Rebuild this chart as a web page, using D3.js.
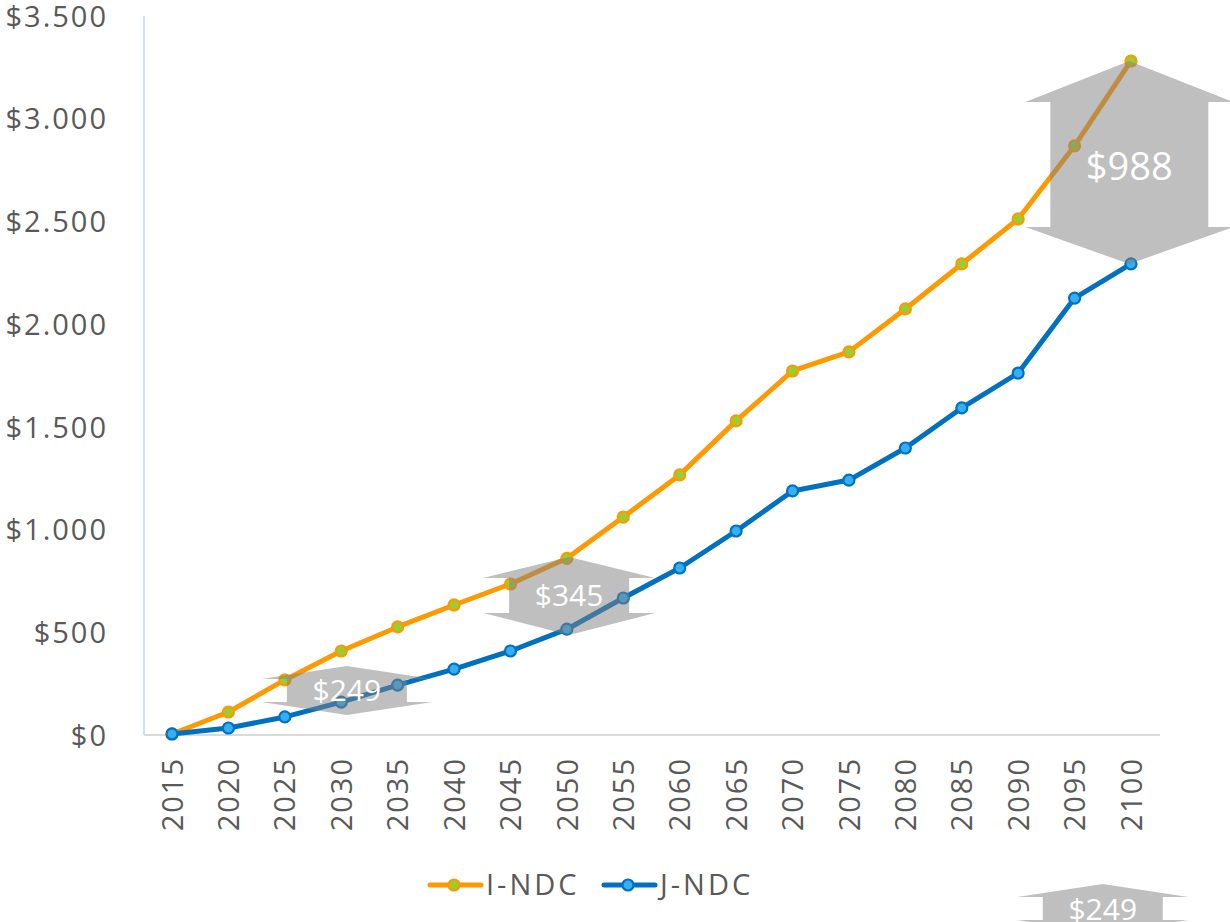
<!DOCTYPE html>
<html>
<head>
<meta charset="utf-8">
<script src="https://cdn.jsdelivr.net/npm/d3@7"></script>
<style>
html,body{margin:0;padding:0;background:#fff;}
svg{display:block;}
</style>
</head>
<body>
<svg id="chart" width="1230" height="922"></svg>
<script>
const years = [2015,2020,2025,2030,2035,2040,2045,2050,2055,2060,2065,2070,2075,2080,2085,2090,2095,2100];
const indc = [5,112,268,409,526,633,735,860,1061,1266,1529,1772,1865,2074,2293,2512,2868,3281];
const jndc = [5,34,88,160,243,321,409,515,667,813,993,1188,1241,1397,1592,1762,2127,2293];
const yTicks = [0,500,1000,1500,2000,2500,3000,3500];
const yTickLabels = ["$0","$500","$1.000","$1.500","$2.000","$2.500","$3.000","$3.500"];
const seriesNames = ["I-NDC","J-NDC"];
const annoLabels = ["$249","$345","$988","$249"];

const FONT = "'Open Sans', 'DejaVu Sans', sans-serif";
const svg = d3.select("#chart");
const x = d3.scalePoint().domain(years).range([172,1131]);
const y = d3.scaleLinear().domain([0,3500]).range([735,16]);

// axes lines
svg.append("line").attr("x1",144).attr("x2",144).attr("y1",y(3500)).attr("y2",y(0))
  .attr("stroke","#c9e1f5").attr("stroke-width",2);
svg.append("line").attr("x1",144).attr("x2",1160).attr("y1",y(0)).attr("y2",y(0))
  .attr("stroke","#d9d9d9").attr("stroke-width",2);

// y tick labels
const yAxis = d3.axisLeft(y).tickValues(yTicks).tickSize(0).tickPadding(0)
  .tickFormat((d,i)=>yTickLabels[i]);
const gy = svg.append("g").attr("transform","translate(108,0)").call(yAxis);
gy.select(".domain").remove();
gy.selectAll("text").attr("font-family",FONT).attr("font-size",29).attr("fill","#595959")
  .attr("letter-spacing","2px").attr("dy","0.35em");

// x tick labels
const xAxis = d3.axisBottom(x).tickSize(0).tickPadding(0);
const gx = svg.append("g").attr("transform",`translate(0,${y(0)})`).call(xAxis);
gx.select(".domain").remove();
gx.selectAll("text").attr("font-family",FONT).attr("font-size",29).attr("fill","#595959")
  .attr("letter-spacing","2px")
  .attr("text-anchor","end").attr("transform","rotate(-90)")
  .attr("x",-22).attr("y",0).attr("dy","0.35em");

const series = [
  {name:seriesNames[0], values:indc, line:"#ff9900", fill:"#9acd32", stroke:"#ff9900"},
  {name:seriesNames[1], values:jndc, line:"#0070c0", fill:"#33b0f5", stroke:"#0070c0"}
];
const lineGen = d3.line().x((d,i)=>x(years[i])).y(d=>y(d));
series.forEach(s=>{
  svg.append("path").datum(s.values).attr("d",lineGen).attr("fill","none")
    .attr("stroke",s.line).attr("stroke-width",5).attr("stroke-linejoin","round").attr("stroke-linecap","round");
  svg.selectAll(null).data(s.values).enter().append("circle")
    .attr("cx",(d,i)=>x(years[i])).attr("cy",d=>y(d)).attr("r",5.5)
    .attr("fill",s.fill).attr("stroke",s.stroke).attr("stroke-width",2.2);
});

// double arrows (annotation shapes)
function dblArrow(cx, yTop, yBot, headH1, headH2, headW, bodyW){
  const pts = [
    [cx, yTop],[cx+headW/2, yTop+headH1],[cx+bodyW/2, yTop+headH1],
    [cx+bodyW/2, yBot-headH2],[cx+headW/2, yBot-headH2],[cx, yBot],
    [cx-headW/2, yBot-headH2],[cx-bodyW/2, yBot-headH2],[cx-bodyW/2, yTop+headH1],
    [cx-headW/2, yTop+headH1]
  ];
  return "M"+pts.map(p=>p.join(",")).join("L")+"Z";
}
const step = x.step();
const annos = [
  {cx:x(2030)+0.1*step, t:y(336), b:y(97), h1:13, h2:13, hw:171, bw:120, fs:30, dy:0, label:annoLabels[0]},
  {cx:x(2050)+0.04*step, t:y(867), b:y(487), h1:21, h2:22, hw:172, bw:120, fs:30, dy:0, label:annoLabels[1]},
  {cx:x(2100)-0.03*step, t:y(indc[17]), b:y(jndc[17]), h1:41, h2:37, hw:208, bw:158, fs:38, dy:4, label:annoLabels[2]},
  {cx:x(2095)+0.5*step, t:y(0)+149, b:y(0)+198, h1:13, h2:13, hw:171, bw:120, fs:30, dy:1, label:annoLabels[3]}
];
annos.forEach(a=>{
  svg.append("path").attr("d",dblArrow(a.cx,a.t,a.b,a.h1,a.h2,a.hw,a.bw))
    .attr("fill","#808080").attr("fill-opacity",0.5);
  svg.append("text").attr("x",a.cx).attr("y",(a.t+a.b)/2+a.dy).attr("dy","0.35em")
    .attr("text-anchor","middle").attr("font-family",FONT).attr("font-size",a.fs)
    .attr("fill","#ffffff").text(a.label);
});

// legend
const legend = svg.append("g");
const legX = [428, 602];
series.forEach((s,i)=>{
  const g = legend.append("g").attr("transform",`translate(${legX[i]},885)`);
  g.append("line").attr("x1",2).attr("x2",53).attr("y1",0).attr("y2",0)
    .attr("stroke",s.line).attr("stroke-width",5).attr("stroke-linecap","round");
  g.append("circle").attr("cx",26).attr("cy",0).attr("r",5.5)
    .attr("fill",s.fill).attr("stroke",s.stroke).attr("stroke-width",2.2);
  g.append("text").attr("x",58).attr("y",0).attr("dy","0.35em")
    .attr("font-family",FONT).attr("font-size",29).attr("fill","#595959")
    .attr("letter-spacing","3px").text(s.name);
});
</script>
</body>
</html>
